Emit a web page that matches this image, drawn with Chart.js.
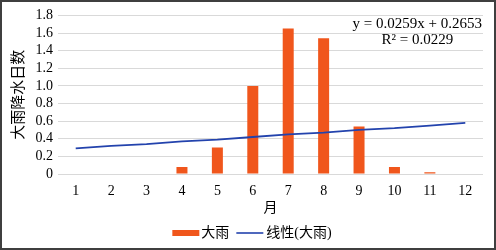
<!DOCTYPE html>
<html>
<head>
<meta charset="utf-8">
<script src="https://cdn.jsdelivr.net/npm/chart.js@4/dist/chart.umd.min.js"></script>
<style>
  html, body { margin: 0; padding: 0; background: #fff; }
  #wrap { width: 496px; height: 250px; box-sizing: border-box; border: 2px solid #3f3f3f; position: relative; }
  canvas { display: block; }
</style>
</head>
<body>
<div id="wrap"><canvas id="chart" width="492" height="246"></canvas></div>
<script>
// data
const months = ['1', '2', '3', '4', '5', '6', '7', '8', '9', '10', '11', '12'];
const heavyRainDays = [0, 0, 0, 0.08, 0.3, 1.0, 1.65, 1.54, 0.54, 0.08, 0.02, 0];
const trendValues = [0.29, 0.32, 0.34, 0.37, 0.39, 0.42, 0.45, 0.47, 0.50, 0.52, 0.55, 0.58];
const trendText = ['y = 0.0259x + 0.2653', 'R² = 0.0229'];
const seriesNames = ['大雨', '线性(大雨)'];
const yTitle = '大雨降水日数';
const xTitle = '月';

const FONT = '"Liberation Serif", "Noto Sans CJK SC", serif';
const orange = '#f0561c';
const blue = '#2343ad';
Chart.defaults.font.family = FONT;
Chart.defaults.color = '#000';

// equation label in the top right corner
const equationPlugin = {
    id: 'equation',
    afterDraw(chart) {
        const ctx = chart.ctx;
        const right = chart.chartArea.right;
        ctx.save();
        ctx.fillStyle = '#000';
        ctx.font = '15px ' + FONT;
        ctx.textBaseline = 'middle';
        ctx.textAlign = 'right';
        ctx.fillText(trendText[0], right - 1, 22);
        ctx.textAlign = 'center';
        const w = ctx.measureText(trendText[0]).width;
        ctx.fillText(trendText[1], right - 1 - w / 2, 38);
        ctx.restore();
    }
};

// legend drawn by hand so it can sit a bit right of centre like the original
const legendPlugin = {
    id: 'customLegend',
    afterDraw(chart) {
        const ctx = chart.ctx;
        ctx.save();
        ctx.font = '14px ' + FONT;
        ctx.textBaseline = 'middle';
        ctx.textAlign = 'left';
        ctx.fillStyle = '#000';
        const sw = 27;
        const w0 = ctx.measureText(seriesNames[0]).width;
        const w1 = ctx.measureText(seriesNames[1]).width;
        const total = sw + 2 + w0 + 7 + sw + 3 + w1;
        let x = chart.width / 2 + 4 - total / 2;
        const y = chart.height - 15;
        ctx.fillStyle = orange;
        ctx.fillRect(x, y - 3, sw, 6);
        x += sw + 2;
        ctx.fillStyle = '#000';
        ctx.fillText(seriesNames[0], x, y);
        x += w0 + 7;
        ctx.strokeStyle = blue;
        ctx.lineWidth = 1.6;
        ctx.beginPath();
        ctx.moveTo(x, y);
        ctx.lineTo(x + sw, y);
        ctx.stroke();
        x += sw + 3;
        ctx.fillText(seriesNames[1], x, y);
        ctx.restore();
    }
};

new Chart(document.getElementById('chart'), {
    data: {
        labels: months,
        datasets: [{
            type: 'bar',
            label: seriesNames[0],
            data: heavyRainDays,
            backgroundColor: orange,
            borderWidth: 0,
            inflateAmount: 0,
            barThickness: 11,
            order: 2
        }, {
            type: 'line',
            label: seriesNames[1],
            data: trendValues,
            borderColor: blue,
            borderWidth: 1.8,
            pointRadius: 0,
            fill: false,
            order: 1
        }]
    },
    options: {
        responsive: false,
        animation: false,
        layout: { padding: { left: 0, right: 11, top: 0, bottom: 31 } },
        scales: {
            x: {
                grid: { display: false, drawTicks: false },
                border: { display: false },
                ticks: { font: { size: 14 }, padding: 9 },
                title: { display: true, text: xTitle, font: { size: 14 }, padding: { top: 2, bottom: 0 } },
                afterFit(scale) { scale.height = 43; }
            },
            y: {
                min: 0,
                max: 1.8,
                ticks: { stepSize: 0.2, autoSkip: false, font: { size: 14 }, padding: 5 },
                grid: { color: '#d9d9d9', lineWidth: 1, drawTicks: false },
                border: { display: false },
                title: { display: true, text: yTitle, font: { size: 15 }, padding: { top: 8, bottom: 0 } },
                afterFit(scale) { scale.width = 56; }
            }
        },
        plugins: {
            legend: { display: false },
            tooltip: { enabled: false }
        }
    },
    plugins: [equationPlugin, legendPlugin]
});
</script>
</body>
</html>
